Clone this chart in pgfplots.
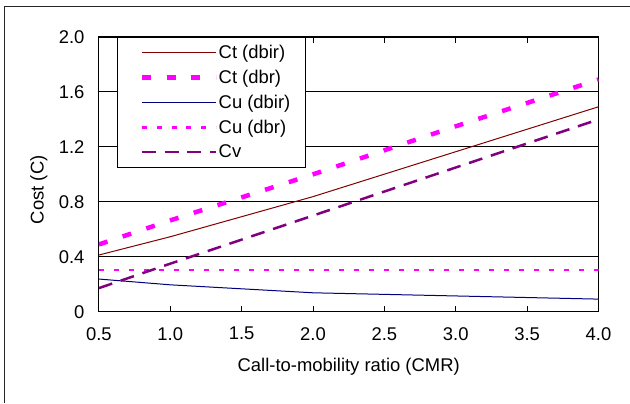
\documentclass[border=0pt]{standalone}
\usepackage{fontspec}
\setmainfont{Liberation Sans}
\usepackage{pgfplots}
\pgfplotsset{compat=1.18}
\definecolor{ctred}{HTML}{800000}
\definecolor{cunavy}{HTML}{000080}
\definecolor{cvpurple}{HTML}{800080}
\definecolor{mag}{HTML}{FF00FF}

\begin{document}
\begin{tikzpicture}
% page area: 630 x 403 bp, axis box lower left at (0,0)
\path (-99bp,-91bp) rectangle (531bp,312bp);
% outer chart frame (cropped at right and bottom)
\draw[line width=1bp, black!85] (-94.5bp,-91bp) -- (-94.5bp,305.5bp) -- (531bp,305.5bp);
\begin{axis}[
  at={(0bp,0bp)}, anchor=south west,
  scale only axis, width=500bp, height=275bp,
  xmin=0.5, xmax=4, ymin=0, ymax=2,
  xtick={0.5,1,1.5,2,2.5,3,3.5,4},
  xticklabels={0.5,1.0,1.5,2.0,2.5,3.0,3.5,4.0},
  ytick={0,0.4,0.8,1.2,1.6,2.0},
  yticklabels={0,0.4,0.8,1.2,1.6,2.0},
  font=\fontsize{18.5}{22}\selectfont,
  /pgf/number format/assume math mode=true,
  tick align=inside,
  major tick length=6bp,
  ytick style={draw=none},
  xtick style={black, line width=1bp},
  axis line style={black, line width=1bp},
  ymajorgrids, grid style={black, line width=0.9bp},
  xticklabel style={yshift=-12bp},
  yticklabel style={xshift=-11bp},
  xlabel={Call-to-mobility ratio (CMR)},
  xlabel style={at={(axis description cs:0.5,0)}, anchor=base, yshift=-60bp},
  ylabel={Cost (C)},
  ylabel style={at={(axis description cs:-0.12,0.444)}, anchor=center},
  legend cell align=left,
  legend image code/.code={\path (0bp,0bp); \draw[#1] (7bp,0bp) -- (82bp,0bp);},
  legend style={at={(axis description cs:0.036,1)}, anchor=north west,
    draw=black, fill=white, line width=0.8bp,
    inner xsep=15bp, inner ysep=8bp, row sep=10bp,
    /tikz/every even column/.append style={column sep=5bp},
    nodes={inner sep=0bp},
    font=\fontsize{18.5}{22}\selectfont},
]
\addplot[ctred, line width=1bp] coordinates {
  (0.5,0.413) (1,0.546) (2,0.838) (3,1.165) (4,1.492)
};
\addlegendentry{Ct (dbir)}
\addplot[mag, line width=4.5bp, dash pattern=on 9bp off 16bp] coordinates {
  (0.5,0.49) (1,0.665) (2,1.0) (3,1.35) (4,1.69)
};
\addlegendentry{Ct (dbr)}
\addplot[cunavy, line width=1bp] coordinates {
  (0.5,0.238) (1,0.196) (2,0.138) (3,0.115) (4,0.092)
};
\addlegendentry{Cu (dbir)}
\addplot[mag, line width=2.5bp, dash pattern=on 5bp off 10bp] coordinates {
  (0.5,0.305) (1,0.305) (2,0.305) (3,0.305) (4,0.305)
};
\addlegendentry{Cu (dbr)}
\addplot[cvpurple, line width=2.5bp, dash pattern=on 14bp off 9bp] coordinates {
  (0.5,0.172) (1,0.35) (2,0.70) (3,1.05) (4,1.40)
};
\addlegendentry{Cv}
\end{axis}
\end{tikzpicture}
\end{document}
